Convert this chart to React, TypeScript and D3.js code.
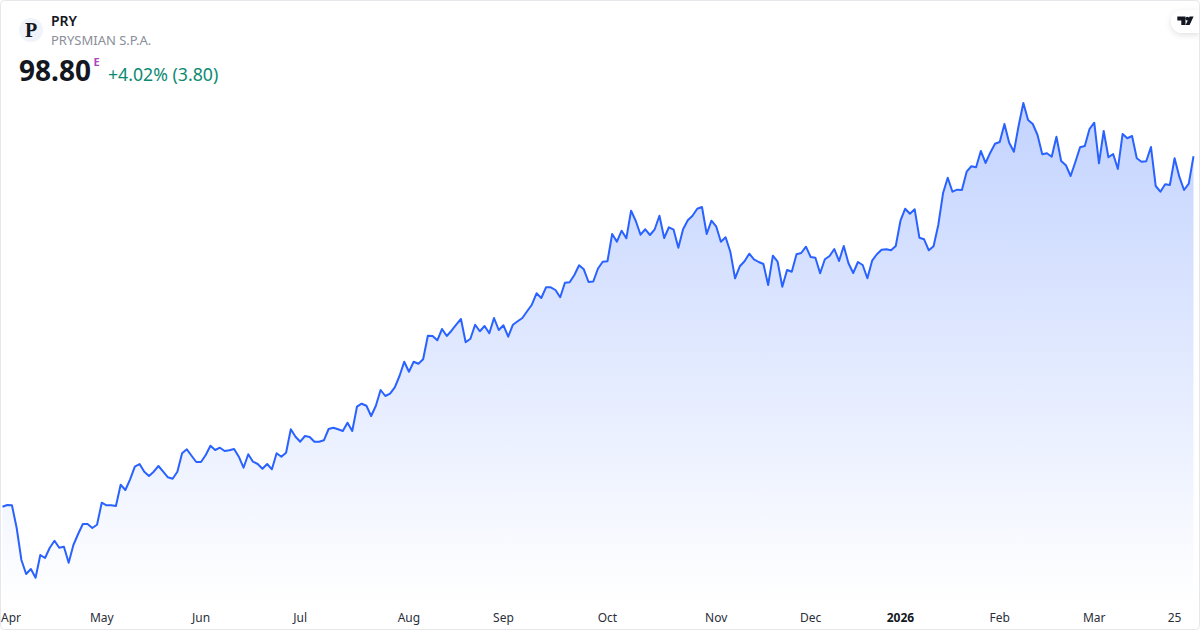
import React, { useMemo } from "react";
import * as d3 from "d3";

const symbol = "PRY";
const company = "PRYSMIAN S.P.A.";
const lastPrice = "98.80";
const changeLabel = "+4.02% (3.80)";

const prices: number[] = [
  49.74, 49.98, 49.94, 46.76, 42.28, 40.32, 41.02, 39.8, 42.98, 42.56,
  44.0, 44.98, 44.0, 44.14, 41.9, 44.38, 45.92, 47.32, 47.32, 46.76,
  47.22, 50.3, 49.94, 49.94, 49.84, 52.82, 52.08, 53.58, 55.34, 55.72,
  54.64, 54.04, 54.64, 55.44, 54.64, 53.86, 53.66, 54.64, 57.22, 57.78,
  56.88, 56.0, 56.0, 56.98, 58.28, 57.68, 58.0, 57.54, 57.64, 57.82,
  56.74, 55.2, 57.08, 56.04, 55.72, 55.06, 55.72, 54.98, 57.22, 56.74,
  57.3, 60.58, 59.54, 58.84, 59.64, 59.5, 58.84, 58.84, 59.04, 60.62,
  60.8, 60.58, 60.34, 61.5, 60.34, 63.74, 64.16, 63.88, 62.44, 63.88,
  66.08, 65.24, 65.56, 66.46, 68.04, 70.04, 68.64, 70.04, 69.76, 70.38,
  73.68, 73.64, 73.04, 74.62, 73.64, 74.38, 75.22, 76.02, 72.76, 73.26,
  75.22, 74.3, 75.04, 74.02, 76.16, 74.48, 75.14, 73.54, 75.22, 75.7,
  76.16, 77.1, 78.02, 79.62, 78.96, 80.46, 80.46, 80.08, 79.06, 81.1,
  81.16, 82.18, 83.54, 82.98, 81.2, 81.27, 83.09, 84.04, 84.1, 87.92,
  86.84, 88.38, 87.32, 91.18, 89.74, 87.82, 88.58, 87.78, 88.58, 90.48,
  87.36, 88.86, 88.52, 86.0, 88.58, 89.84, 90.48, 91.46, 91.7, 87.92,
  89.78, 89.0, 86.84, 87.46, 85.44, 81.72, 83.4, 84.1, 85.16, 84.38,
  84.0, 83.72, 80.78, 84.88, 84.04, 80.54, 82.88, 82.64, 85.08, 85.26,
  86.14, 84.7, 84.6, 82.42, 84.38, 84.84, 85.82, 84.14, 86.24, 83.82,
  82.46, 84.0, 83.58, 81.72, 84.18, 85.08, 85.72, 85.78, 85.64, 86.24,
  89.78, 91.46, 90.76, 91.38, 87.4, 87.18, 85.64, 86.2, 89.18, 93.62,
  95.8, 93.84, 94.12, 94.08, 96.64, 97.4, 97.26, 99.54, 97.86, 99.3,
  100.56, 100.8, 103.32, 100.7, 99.44, 103.08, 106.26, 103.88, 103.32, 101.78,
  99.08, 99.22, 98.74, 101.54, 98.14, 97.54, 96.04, 98.0, 100.06, 100.24,
  102.62, 103.5, 97.82, 102.34, 98.66, 99.12, 97.02, 101.92, 101.32, 101.64,
  98.52, 98.04, 98.1, 100.1, 94.64, 93.84, 94.88, 94.78, 98.52, 95.94,
  94.08, 94.96, 98.8,
];

const tickLabels = ["Apr", "May", "Jun", "Jul", "Aug", "Sep", "Oct", "Nov", "Dec", "2026", "Feb", "Mar", "25"];
const tickIndices = [1.8, 21, 42, 63, 86, 106, 128, 151, 171, 190, 211, 231, 248];

const FONT = '"Noto Sans", sans-serif';

export default function App() {
  const x = useMemo(() => d3.scaleLinear().domain([0, prices.length - 1]).range([2.5, 1193.5]), []);
  const y = useMemo(() => d3.scaleLinear().domain([40, 100]).range([576.3, 147.7]), []);
  const line = d3.line<number>().x((_, i) => x(i)).y((d) => y(d));
  const area = d3.area<number>().x((_, i) => x(i)).y0(602).y1((d) => y(d));

  return (
    <svg
      width={1200}
      height={630}
      viewBox="0 0 1200 630"
      style={{ position: "absolute", left: 0, top: 0, display: "block", background: "#fff" }}
      fontFamily={FONT}
    >
      <defs>
        <linearGradient id="fill" gradientUnits="userSpaceOnUse" x1="0" x2="0" y1="103" y2="602">
          <stop offset="0" stopColor="#2962ff" stopOpacity={0.28} />
          <stop offset="1" stopColor="#2962ff" stopOpacity={0} />
        </linearGradient>
        <filter id="sh" x="-30%" y="-50%" width="160%" height="200%">
          <feDropShadow dx="0" dy="2" stdDeviation="3" floodColor="#000" floodOpacity="0.12" />
        </filter>
      </defs>

      <path d={area(prices) ?? ""} fill="url(#fill)" />
      <path d={line(prices) ?? ""} fill="none" stroke="#2962ff" strokeWidth={2} strokeLinejoin="round" />

      {tickLabels.map((t, i) => (
        <text
          key={t}
          x={x(tickIndices[i])}
          y={622}
          textAnchor="middle"
          fontSize={12}
          fontWeight={t === "2026" ? 700 : 400}
          fill={t === "2026" ? "#131722" : "#2a2e39"}
        >
          {t}
        </text>
      ))}

      <circle cx={31} cy={30} r={12} fill="#f0f3fa" />
      <text x={31} y={36.5} textAnchor="middle" fontSize={20} fontWeight={700} fontFamily='"Liberation Serif", serif' fill="#131722">P</text>
      <text x={51} y={26} fontSize={14} fontWeight={600} fill="#131722">{symbol}</text>
      <text x={51} y={45} fontSize={13} fill="#8a8e98">{company}</text>
      <text x={19} y={81} fontSize={28} fontWeight={700} fill="#131722">{lastPrice}</text>
      <text x={93.5} y={66} fontSize={11} fontWeight={700} fill="#ab47bc">E</text>
      <text x={108} y={81} fontSize={17.7} fill="#0b8a72">{changeLabel}</text>

      <path d="M1200 10 H1182.5 A11.5 11.5 0 0 0 1182.5 33 H1200 Z" fill="#fff" filter="url(#sh)" />
      <path d="M1177.3 16.5 H1185.5 V25 H1181.3 V20.5 H1177.3 Z M1189.6 16.5 H1193.6 L1189.6 25 H1185.6 Z" fill="#131722" />
      <circle cx={1187.3} cy={18.6} r={1.9} fill="#131722" />

      <rect x={0.5} y={0.5} width={1199} height={629} rx={4} fill="none" stroke="#e6e7eb" />
    </svg>
  );
}
